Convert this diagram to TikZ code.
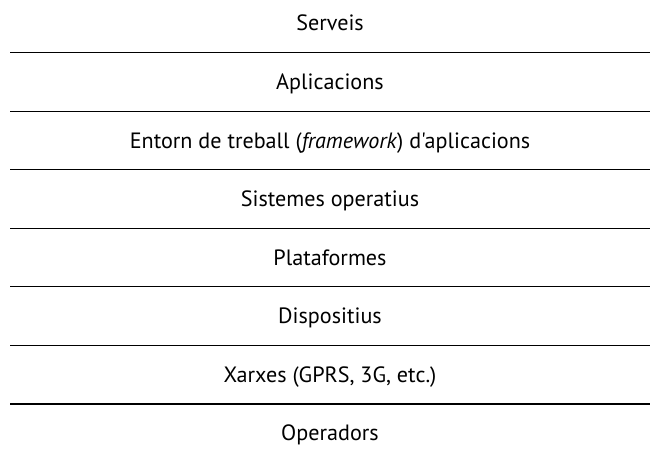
\documentclass[tikz,border=0pt]{standalone}
\usepackage{fontspec}
\newfontfamily\layerfont{PT Sans}
\usepackage{tikz}
\usetikzlibrary{positioning}

\begin{document}
\begin{tikzpicture}[node distance=0pt,outer sep=0pt,
  layer/.style={minimum width=12.8cm, minimum height=1.171cm, inner sep=0pt,
    text height=2.0ex, text depth=0ex, font=\layerfont\fontsize{12.6}{14}\selectfont},
  rule/.style={line width=0.6pt}]

\useasboundingbox (0,0) rectangle (13,-9.04);

% Layers
\node [layer] (serveis) at (6.6,-0.468) {Serveis};
\node [layer, below=of serveis] (aplicacions) {Aplicacions};
\node [layer, below=of aplicacions] (entorn) {Entorn de treball (\textit{framework}) d'aplicacions};
\node [layer, below=of entorn] (sistemes) {Sistemes operatius};
\node [layer, below=of sistemes] (plataformes) {Plataformes};
\node [layer, below=of plataformes] (dispositius) {Dispositius};
\node [layer, below=of dispositius] (xarxes) {Xarxes (GPRS, 3G, etc.)};
\node [layer, below=of xarxes] (operadors) {Operadors};

% Rules between layers
\foreach \n in {serveis,aplicacions,entorn,sistemes,plataformes,dispositius,xarxes}
  \draw [rule] (\n.south west) -- (\n.south east);

\end{tikzpicture}
\end{document}
